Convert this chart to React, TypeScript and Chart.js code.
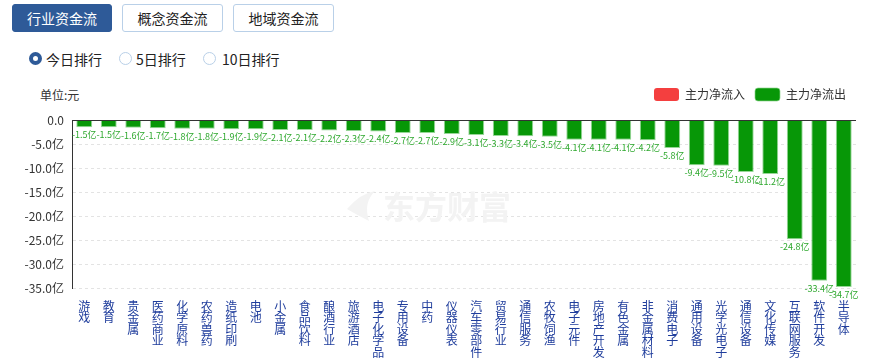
import React, { useEffect, useRef } from "react";
import { Chart, registerables } from "chart.js";

Chart.register(...registerables);

const categories: string[] = [
  "游戏", "教育", "贵金属", "医药商业", "化学原料", "农药兽药", "造纸印刷", "电池",
  "小金属", "食品饮料", "酿酒行业", "旅游酒店", "电子化学品", "专用设备", "中药", "仪器仪表",
  "汽车零部件", "贸易行业", "通信服务", "农牧饲渔", "电子元件", "房地产开发", "有色金属", "非金属材料",
  "消费电子", "通用设备", "光学光电子", "通信设备", "文化传媒", "互联网服务", "软件开发", "半导体",
];

// 主力净流入/流出 (亿元)
const netFlow: number[] = [
  -1.5, -1.5, -1.6, -1.7, -1.8, -1.8, -1.9, -1.9,
  -2.1, -2.1, -2.2, -2.3, -2.4, -2.7, -2.7, -2.9,
  -3.1, -3.3, -3.4, -3.5, -4.1, -4.1, -4.1, -4.2,
  -5.8, -9.4, -9.5, -10.8, -11.2, -24.8, -33.4, -34.7,
];

const yMin = -35;
const yMax = 0;
const yStep = 5;

const seriesNames = ["主力净流入", "主力净流出"];
const tabLabels = ["行业资金流", "概念资金流", "地域资金流"];
const rankLabels = ["今日排行", "5日排行", "10日排行"];

const RED = "#f43f3f";
const GREEN = "#079707";

const FONT = '"Microsoft YaHei", "Noto Sans CJK SC", "Noto Sans", sans-serif';

const extraPlugin = {
  id: "extras",
  beforeInit(chart: any) {
    const legend = chart.legend;
    if (legend && !legend.__patched) {
      const origFit = legend.fit;
      legend.fit = function () {
        origFit.call(this);
        this.height += 9;
      };
      legend.__patched = true;
    }
  },
  beforeDatasetsDraw(chart: any) {
    const { ctx, chartArea } = chart;
    ctx.save();
    ctx.fillStyle = "#f3f3f3";
    ctx.font = `bold 32px ${FONT}`;
    ctx.textAlign = "left";
    ctx.textBaseline = "middle";
    const cx = chartArea.left + 311;
    const cy = chartArea.top + 87;
    ctx.fillText("东方财富", cx, cy);
    // simple leaf-like logo
    ctx.beginPath();
    ctx.moveTo(cx - 36, cy + 2);
    ctx.quadraticCurveTo(cx - 22, cy - 14, cx - 8, cy - 16);
    ctx.quadraticCurveTo(cx - 20, cy - 4, cx - 14, cy + 14);
    ctx.quadraticCurveTo(cx - 26, cy + 8, cx - 36, cy + 2);
    ctx.fill();
    ctx.restore();
  },
  afterDatasetsDraw(chart: any) {
    const { ctx, chartArea, scales } = chart;
    ctx.save();
    ctx.font = `9px ${FONT}`;
    ctx.fillStyle = "#2ea82e";
    ctx.textAlign = "center";
    chart.data.datasets.forEach((ds: any, di: number) => {
      const meta = chart.getDatasetMeta(di);
      meta.data.forEach((bar: any, i: number) => {
        const v = ds.data[i];
        if (v == null) return;
        const txt = v.toFixed(1) + "亿";
        if (v < 0) {
          ctx.textBaseline = "top";
          ctx.fillText(txt, bar.x, bar.y + 3);
        } else {
          ctx.textBaseline = "bottom";
          ctx.fillText(txt, bar.x, bar.y - 3);
        }
      });
    });
    const y0 = Math.round(scales.y.getPixelForValue(0)) + 0.5;
    ctx.strokeStyle = "#333";
    ctx.lineWidth = 1;
    ctx.beginPath();
    ctx.moveTo(chartArea.left, y0);
    ctx.lineTo(chartArea.right, y0);
    ctx.stroke();
    ctx.restore();
  },
};

function ChartCanvas() {
  const ref = useRef<HTMLCanvasElement | null>(null);
  useEffect(() => {
    if (!ref.current) return;
    const inflow = netFlow.map((v) => (v > 0 ? v : null));
    const outflow = netFlow.map((v) => (v < 0 ? v : null));
    const chart = new Chart(ref.current, {
      type: "bar",
      data: {
        labels: categories,
        datasets: [
          {
            label: seriesNames[0],
            data: inflow as any,
            backgroundColor: RED,
            borderColor: RED,
            borderWidth: 0,
            grouped: false,
            barPercentage: 0.65,
            categoryPercentage: 1,
          } as any,
          {
            label: seriesNames[1],
            data: outflow as any,
            backgroundColor: GREEN,
            borderColor: "rgba(140,210,140,0.9)",
            borderWidth: { left: 1, right: 1, bottom: 1, top: 0 },
            borderSkipped: "start",
            grouped: false,
            barPercentage: 0.65,
            categoryPercentage: 1,
          } as any,
        ],
      },
      options: {
        animation: false,
        responsive: true,
        maintainAspectRatio: false,
        layout: { padding: { left: 0, right: 15, top: 0, bottom: 0 } },
        plugins: {
          legend: {
            position: "top",
            align: "end",
            labels: {
              boxWidth: 25,
              boxHeight: 13,
              useBorderRadius: true,
              borderRadius: 3,
              color: "#333",
              padding: 10,
              font: { size: 12, family: FONT },
            },
          },
          tooltip: { enabled: false },
        },
        scales: {
          x: {
            grid: { display: false },
            border: { display: false },
            ticks: {
              autoSkip: false,
              maxRotation: 0,
              minRotation: 0,
              padding: 4,
              color: "#1f3d9c",
              font: { size: 12, family: FONT, lineHeight: 0.96 },
              callback: (_v: any, i: number) => categories[i].split(""),
            },
          },
          y: {
            min: yMin,
            max: yMax,
            afterFit: (scale: any) => {
              scale.width = 72;
            },
            grid: {
              color: "#e3e3e3",
              drawTicks: false,
            },
            border: { display: true, color: "#333", width: 1, dash: [3, 3] },
            ticks: {
              stepSize: yStep,
              padding: 8,
              color: "#333",
              font: { size: 12, family: FONT },
              callback: (v: any) => (Number(v) === 0 ? "0.0" : Number(v).toFixed(1) + "亿"),
            },
          },
        },
      },
      plugins: [extraPlugin],
    });
    return () => chart.destroy();
  }, []);
  return (
    <div style={{ position: "absolute", left: 0, top: 78, width: 871, height: 284 }}>
      <canvas ref={ref} />
    </div>
  );
}

export default function App() {
  const tabStyle = (active: boolean, left: number, width: number): React.CSSProperties => ({
    position: "absolute",
    left,
    top: 4,
    width,
    height: 28,
    boxSizing: "border-box",
    borderRadius: 3,
    border: active ? "1px solid #2e5a98" : "1px solid #b9d0e8",
    background: active ? "#2e5a98" : "#fff",
    color: active ? "#fff" : "#222",
    fontSize: 14,
    lineHeight: "26px",
    textAlign: "center",
    fontFamily: FONT,
  });
  const radioLefts = [29, 119, 203];
  const textLefts = [46, 136, 222];
  return (
    <div
      style={{
        position: "absolute",
        left: 0,
        top: 0,
        width: 871,
        height: 362,
        overflow: "hidden",
        background: "#fff",
        fontFamily: FONT,
      }}
    >
      <div style={tabStyle(true, 12, 100)}>{tabLabels[0]}</div>
      <div style={tabStyle(false, 122, 101)}>{tabLabels[1]}</div>
      <div style={tabStyle(false, 233, 101)}>{tabLabels[2]}</div>
      {rankLabels.map((t, i) => (
        <React.Fragment key={t}>
          <div
            style={{
              position: "absolute",
              left: radioLefts[i],
              top: 52,
              width: 13,
              height: 13,
              boxSizing: "border-box",
              borderRadius: "50%",
              border: i === 0 ? "4px solid #2e5a98" : "1px solid #b9d0e8",
              background: "#fff",
            }}
          />
          <div
            style={{
              position: "absolute",
              left: textLefts[i],
              top: 49,
              fontSize: 14,
              lineHeight: "20px",
              color: "#222",
            }}
          >
            {t}
          </div>
        </React.Fragment>
      ))}
      <div
        style={{
          position: "absolute",
          left: 40,
          top: 87,
          fontSize: 12,
          lineHeight: "16px",
          color: "#333",
        }}
      >
        单位:元
      </div>
      <ChartCanvas />
    </div>
  );
}
